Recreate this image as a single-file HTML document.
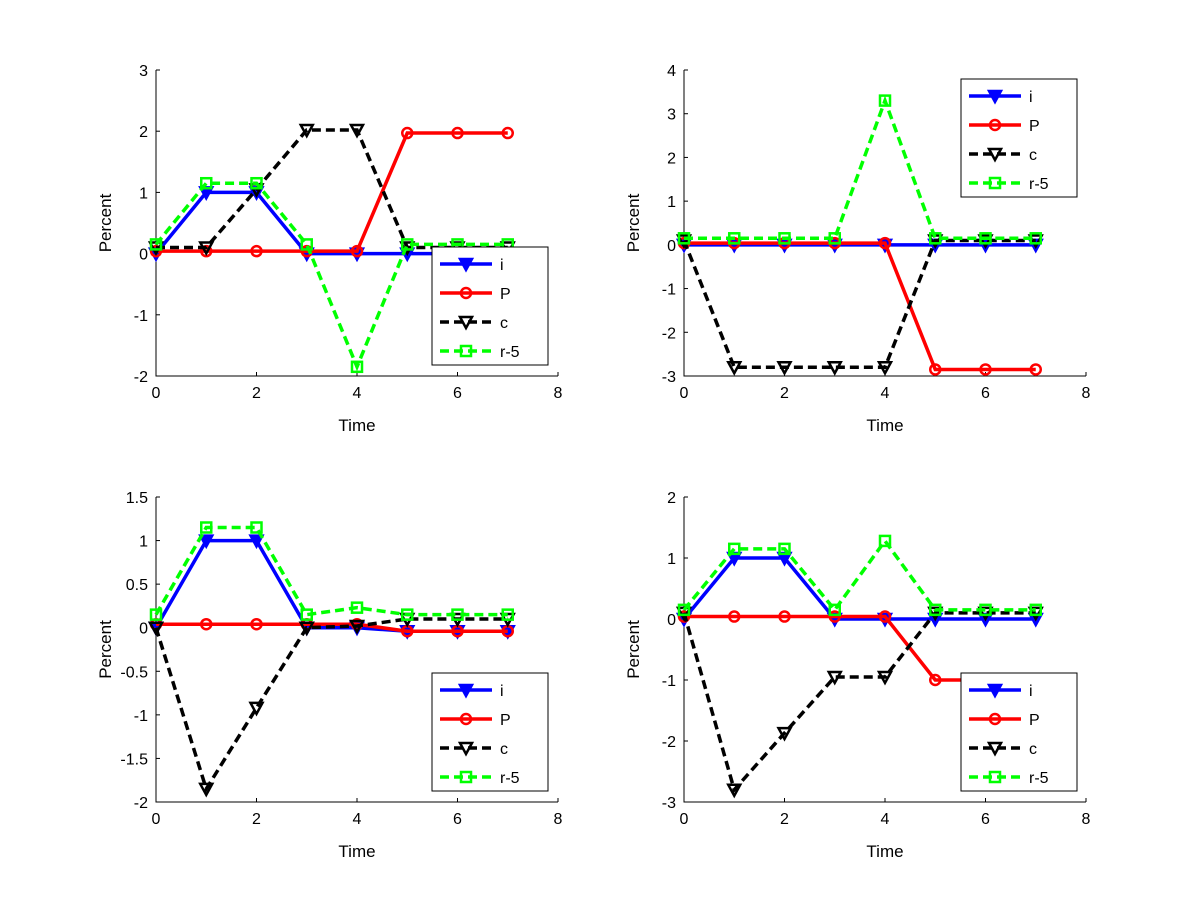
<!DOCTYPE html>
<html><head><meta charset="utf-8"><style>
html,body{margin:0;padding:0;background:#fff;}
svg{display:block;font-family:"Liberation Sans",sans-serif;}
</style></head><body>
<svg id="fig" width="1200" height="900"></svg>
<script>
const times=[0,1,2,3,4,5,6,7];
const xTicks=[0,2,4,6,8];
const seriesNames=["i","P","c","r-5"];
const tlI=[0,1,1,0,0,0,0,0];
const tlP=[0.04,0.04,0.04,0.04,0.04,1.97,1.97,1.97];
const tlC=[0.1,0.1,1.05,2.02,2.02,0.1,0.1,0.1];
const tlR=[0.15,1.15,1.15,0.15,-1.85,0.15,0.15,0.15];
const trI=[0,0,0,0,0,0,0,0];
const trP=[0.04,0.04,0.04,0.04,0.04,-2.85,-2.85,-2.85];
const trC=[0.1,-2.8,-2.8,-2.8,-2.8,0.1,0.1,0.1];
const trR=[0.15,0.15,0.15,0.15,3.3,0.15,0.15,0.15];
const blI=[0,1,1,0,0,-0.04,-0.04,-0.04];
const blP=[0.04,0.04,0.04,0.04,0.04,-0.04,-0.04,-0.04];
const blC=[0,-1.85,-0.92,0,0.02,0.1,0.1,0.1];
const blR=[0.15,1.15,1.15,0.15,0.23,0.15,0.15,0.15];
const brI=[0,1,1,0,0,0,0,0];
const brP=[0.04,0.04,0.04,0.04,0.04,-1,-1,-1];
const brC=[0.1,-2.8,-1.87,-0.95,-0.95,0.1,0.1,0.1];
const brR=[0.15,1.15,1.15,0.15,1.28,0.15,0.15,0.15];
const tlTicks=[-2,-1,0,1,2,3];
const trTicks=[-3,-2,-1,0,1,2,3,4];
const blTicks=[-2,-1.5,-1,-0.5,0,0.5,1,1.5];
const brTicks=[-3,-2,-1,0,1,2];

const NS="http://www.w3.org/2000/svg";
const svg=document.getElementById('fig');
function mk(tag,attrs,parent){const e=document.createElementNS(NS,tag);for(const k in attrs)e.setAttribute(k,attrs[k]);(parent||svg).appendChild(e);return e;}
const styles=[{color:"#0000ff",dash:null,marker:"tri",fill:"#0000ff"},{color:"#ff0000",dash:null,marker:"circ",fill:"none"},{color:"#000000",dash:"9,5",marker:"tri",fill:"none"},{color:"#00ff00",dash:"9,5",marker:"sq",fill:"none"}];
function marker(g,type,x,y,st){
  let m;
  if(type==="tri") m=mk('polygon',{points:`${x-6},${y-5} ${x+6},${y-5} ${x},${y+6}`,fill:st.fill,stroke:st.color,'stroke-width':2.5},g);
  else if(type==="circ") m=mk('circle',{cx:x,cy:y,r:5,fill:'none',stroke:st.color,'stroke-width':2.5},g);
  else m=mk('rect',{x:x-5,y:y-5,width:10,height:10,fill:'none',stroke:st.color,'stroke-width':2.5},g);
  
  
}
function panel(name,x0,x1,yTop,yBot,ticks,data,leg){
  const g=mk('g',{});
  
  
  const ymin=ticks[0],ymax=ticks[ticks.length-1];
  const sx=v=>x0+(v-0)/(8-0)*(x1-x0);
  const sy=v=>yBot-(v-ymin)/(ymax-ymin)*(yBot-yTop);
  const ax=mk('path',{d:`M${x0},${yTop}V${yBot}H${x1}`,fill:'none',stroke:'#000','stroke-width':1},g);
  
  xTicks.forEach(t=>{mk('line',{x1:sx(t),x2:sx(t),y1:yBot,y2:yBot-4,stroke:'#000'},g);
    const tx=mk('text',{x:sx(t),y:yBot+22,'text-anchor':'middle','font-size':16},g);tx.textContent=t;
    });
  ticks.forEach(t=>{mk('line',{x1:x0,x2:x0+4,y1:sy(t),y2:sy(t),stroke:'#000'},g);
    const tx=mk('text',{x:x0-8,y:sy(t)+6,'text-anchor':'end','font-size':16},g);tx.textContent=t;
    });
  const xl=mk('text',{x:(x0+x1)/2,y:yBot+55,'text-anchor':'middle','font-size':17},g);xl.textContent="Time";
  
  const yl=mk('text',{x:0,y:0,'text-anchor':'middle','font-size':17,transform:`translate(${x0-45},${(yTop+yBot)/2}) rotate(-90)`},g);yl.textContent="Percent";
  
  data.forEach((arr,si)=>{const st=styles[si];
    const pts=arr.map((v,i)=>`${sx(times[i])},${sy(v)}`).join(' ');
    const pl=mk('polyline',{points:pts,fill:'none',stroke:st.color,'stroke-width':3.5,'stroke-dasharray':st.dash||'none'},g);
    
    arr.forEach((v,i)=>marker(g,st.marker,sx(times[i]),sy(v),st));});
  const lg=mk('g',{},g);
  
  mk('rect',{x:leg[0],y:leg[1],width:116,height:118,fill:'#fff',stroke:'#000'},lg);
  seriesNames.forEach((n,si)=>{const st=styles[si];const yy=leg[1]+17+si*29;
    mk('line',{x1:leg[0]+8,x2:leg[0]+60,y1:yy,y2:yy,stroke:st.color,'stroke-width':3.5,'stroke-dasharray':st.dash||'none'},lg);
    marker(lg,st.marker,leg[0]+34,yy,st);
    const t=mk('text',{x:leg[0]+68,y:yy+6,'font-size':16},lg);t.textContent=n;
    });
}
panel('panel-top-left',156,558,70,376,tlTicks,[tlI,tlP,tlC,tlR],[432,247]);
panel('panel-top-right',684,1086,70,376,trTicks,[trI,trP,trC,trR],[961,79]);
panel('panel-bottom-left',156,558,497,802,blTicks,[blI,blP,blC,blR],[432,673]);
panel('panel-bottom-right',684,1086,497,802,brTicks,[brI,brP,brC,brR],[961,673]);
</script>
</body></html>
